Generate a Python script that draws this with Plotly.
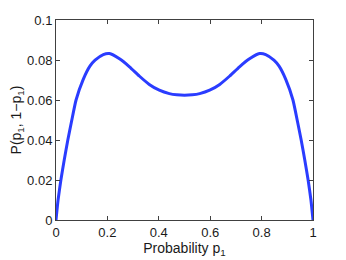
import plotly.graph_objects as go

left_p = [0.0, 0.008, 0.019, 0.032, 0.046, 0.06, 0.078, 0.106, 0.132, 0.152, 0.184, 0.208,
          0.247, 0.286, 0.324, 0.363, 0.402, 0.441, 0.47, 0.5]
left_v = [0.0, 0.010, 0.020, 0.030, 0.040, 0.049, 0.060, 0.0703, 0.0769, 0.0799, 0.0827, 0.0832,
          0.0806, 0.0766, 0.0720, 0.0678, 0.0649, 0.0632, 0.0626, 0.0624]
right_p = [0.53, 0.559, 0.598, 0.637, 0.676, 0.714, 0.753, 0.792, 0.816, 0.848, 0.868, 0.894,
           0.922, 0.94, 0.954, 0.968, 0.981, 0.992, 1.0]
right_v = [0.0626, 0.0632, 0.0649, 0.0678, 0.0720, 0.0766, 0.0806, 0.0832, 0.0827, 0.0799, 0.0769, 0.0703,
           0.060, 0.049, 0.040, 0.030, 0.020, 0.010, 0.0]
p1 = left_p + right_p
prob = left_v + right_v

x_ticks = [0, 0.2, 0.4, 0.6, 0.8, 1]
x_labels = ["0", "0.2", "0.4", "0.6", "0.8", "1"]
y_ticks = [0, 0.02, 0.04, 0.06, 0.08, 0.1]
y_labels = ["0", "0.02", "0.04", "0.06", "0.08", "0.1"]

fig = go.Figure()
fig.add_trace(go.Scatter(x=p1, y=prob, mode="lines",
                         line=dict(color="#2a3cff", width=3, shape="spline", smoothing=0.5),
                         showlegend=False))

axis_common = dict(showline=True, linecolor="#404040", linewidth=1, mirror="ticks",
                   ticks="inside", ticklen=4, tickcolor="#404040", showgrid=False,
                   zeroline=False, tickfont=dict(size=13, color="#1a1a1a"))

fig.update_xaxes(range=[0, 1], tickvals=x_ticks, ticktext=x_labels,
                 title=dict(text="Probability p<sub>1</sub>", font=dict(size=14, color="#1a1a1a"), standoff=2),
                 **axis_common)
fig.update_yaxes(range=[0, 0.1], tickvals=y_ticks, ticktext=y_labels,
                 title=dict(text="P(p<sub>1</sub>, 1\u2212p<sub>1</sub>)", font=dict(size=14, color="#1a1a1a"), standoff=4),
                 **axis_common)

fig.update_layout(width=338, height=252, margin=dict(l=48, r=33, t=12, b=40, autoexpand=False),
                  paper_bgcolor="white", plot_bgcolor="white",
                  font=dict(family="Liberation Sans, Arial, sans-serif", color="#1a1a1a"))

fig.write_html("out.html")
